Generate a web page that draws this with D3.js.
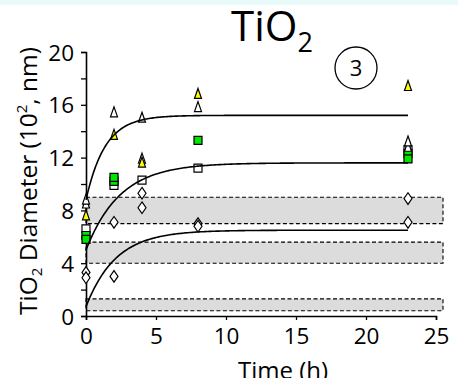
<!DOCTYPE html>
<html>
<head>
<meta charset="utf-8">
<script src="https://cdn.jsdelivr.net/npm/d3@7"></script>
<style>
  html, body { margin: 0; padding: 0; background: #fff; }
  svg { display: block; font-family: "Open Sans", "Liberation Sans", sans-serif; }
</style>
</head>
<body>
<svg id="chart" width="458" height="378"></svg>
<script>
// Sampling times (h)
const times = [0, 2, 4, 8, 23];

// Particle diameters (10^2 nm); null = not measured
const triOpenA   = [8.8, 15.4, 15.0, 15.8, 13.2];
const triOpenB   = [8.5, null, 11.9, null, 12.8];
const triYellow  = [7.6, 13.7, 11.6, 16.8, 17.4];
const sqOpen     = [6.6, 9.9, 10.3, 11.2, 12.6];
const sqGreenA   = [6.1, 10.2, null, 13.3, 12.3];
const sqGreenB   = [5.8, 10.5, null, null, 11.9];
const diaOpenA   = [3.3, 7.1, 9.3, 7.0, 8.9];
const diaOpenB   = [2.9, 3.0, 8.2, 6.8, 7.1];

// First-order growth fits: d(t) = plateau - (plateau - start) * exp(-rate * t)
const fitPlateau = [15.2, 11.6, 6.5];
const fitStart   = [8.8, 5.0, 0.7];
const fitRate    = [0.73, 0.41, 0.47];
const fitEnd     = 23;

// Reference size ranges (shaded bands), [low, high] in 10^2 nm
const bandLow  = [0.4, 4.0, 7.0];
const bandHigh = [1.3, 5.6, 9.0];
const bandEnd  = 25.5;

// Axis ticks
const xTicks = [0, 5, 10, 15, 20, 25];
const yTicks = [0, 2, 4, 6, 8, 10, 12, 14, 16, 18, 20];
const yLabels = [0, 4, 8, 12, 16, 20];

const svg = d3.select("#chart");
const x = d3.scaleLinear().domain([0, 25]).range([86, 436]);
const y = d3.scaleLinear().domain([0, 20]).range([316, 52]);

// pale strip along the top edge
svg.append("rect").attr("x", 0).attr("y", 0).attr("width", 458).attr("height", 5).attr("fill", "#e8fafa");

// shaded bands
const bands = bandLow.map((lo, i) => ({lo, hi: bandHigh[i]}));
svg.append("g").selectAll("rect").data(bands).join("rect")
  .attr("x", x(0)).attr("width", x(bandEnd) - x(0))
  .attr("y", d => y(d.hi)).attr("height", d => y(d.lo) - y(d.hi))
  .attr("fill", "#dcdcdc").attr("stroke", "#000").attr("stroke-width", 1.1)
  .attr("stroke-dasharray", "4,2.5");

// axes
const yAxis = d3.axisLeft(y).tickValues(yTicks).tickSize(5).tickFormat(d => yLabels.includes(d) ? d : "");
const gy = svg.append("g").attr("transform", `translate(${x(0)},0)`).call(yAxis);
const xAxis = d3.axisBottom(x).tickValues(xTicks).tickSize(4).tickFormat(d => d);
const gx = svg.append("g").attr("transform", `translate(0,${y(0)})`).call(xAxis);
[gx, gy].forEach(g => {
  g.select(".domain").attr("stroke", "#000").attr("stroke-width", 1.6);
  g.selectAll(".tick line").attr("stroke", "#000").attr("stroke-width", 1.3);
  g.selectAll(".tick text").attr("fill", "#000").attr("font-size", 22.5)
    .attr("font-family", "Open Sans, sans-serif");
});
gy.selectAll(".tick text").attr("x", -12).attr("dy", "0.36em");
gx.selectAll(".tick text").attr("y", 10).attr("dy", "0.8em");

// marker shapes
function shapePath(kind, cx, cy) {
  const p = d3.path();
  if (kind === "tri") {
    p.moveTo(cx, cy - 5.8); p.lineTo(cx + 3.5, cy + 4.2); p.lineTo(cx - 3.5, cy + 4.2); p.closePath();
  } else if (kind === "sq") {
    p.rect(cx - 4, cy - 4, 8, 8);
  } else {
    p.moveTo(cx, cy - 5.8); p.lineTo(cx + 4, cy); p.lineTo(cx, cy + 5.8); p.lineTo(cx - 4, cy); p.closePath();
  }
  return p.toString();
}

const series = [
  {vals: diaOpenA, kind: "dia", fill: "#fff"},
  {vals: diaOpenB, kind: "dia", fill: "#fff"},
  {vals: sqOpen,   kind: "sq",  fill: "#fff"},
  {vals: sqGreenA, kind: "sq",  fill: "#00e600"},
  {vals: sqGreenB, kind: "sq",  fill: "#00e600"},
  {vals: triOpenB, kind: "tri", fill: "#fff"},
  {vals: triOpenA, kind: "tri", fill: "#fff"},
  {vals: triYellow, kind: "tri", fill: "#ffff00"}
];
const gm = svg.append("g");
series.forEach(s => {
  const pts = times.map((t, i) => ({t, v: s.vals[i]})).filter(d => d.v != null);
  gm.append("g").selectAll("path").data(pts).join("path")
    .attr("d", d => shapePath(s.kind, x(d.t), y(d.v)))
    .attr("fill", s.fill).attr("stroke", "#000").attr("stroke-width", 1.2);
});

// fitted curves
const tGrid = d3.range(0, fitEnd + 0.001, 0.1);
const line = d3.line().x(d => x(d[0])).y(d => y(d[1])).curve(d3.curveLinear);
fitPlateau.forEach((a, i) => {
  const pts = tGrid.map(t => [t, a - (a - fitStart[i]) * Math.exp(-fitRate[i] * t)]);
  svg.append("path").attr("d", line(pts)).attr("fill", "none")
    .attr("stroke", "#000").attr("stroke-width", 1.6);
});

// title
const title = svg.append("text").attr("x", 231).attr("y", 41).attr("font-size", 42).attr("fill", "#000");
title.append("tspan").text("TiO");
title.append("tspan").attr("font-size", 27).attr("dy", 11).text("2");

// panel number
svg.append("circle").attr("cx", 356).attr("cy", 68).attr("r", 21)
  .attr("fill", "#fff").attr("stroke", "#000").attr("stroke-width", 1.3);
svg.append("text").attr("x", 356).attr("y", 68).attr("dy", "0.36em").attr("text-anchor", "middle")
  .attr("font-size", 22).text("3");

// axis titles
const yt = svg.append("text").attr("transform", "translate(37,181) rotate(-90)")
  .attr("text-anchor", "middle").attr("font-size", 24.5).attr("fill", "#000");
yt.append("tspan").text("TiO");
yt.append("tspan").attr("font-size", 15).attr("dy", 5).text("2");
yt.append("tspan").attr("dy", -5).text(" Diameter (10");
yt.append("tspan").attr("font-size", 15).attr("dy", -10).text("2");
yt.append("tspan").attr("dy", 10).text(", nm)");

svg.append("text").attr("x", 283).attr("y", 379).attr("text-anchor", "middle")
  .attr("font-size", 24).attr("fill", "#000").text("Time (h)");
</script>
</body>
</html>
